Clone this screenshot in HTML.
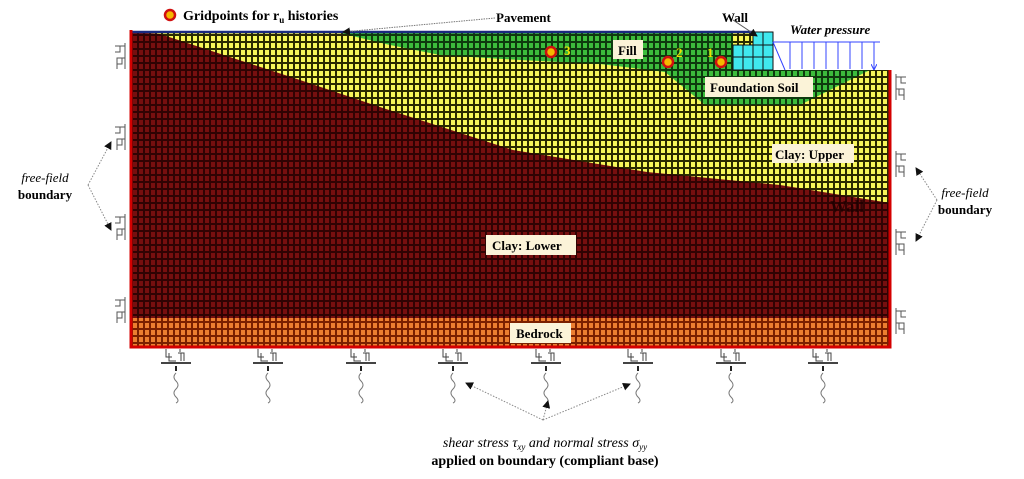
<!DOCTYPE html>
<html><head><meta charset="utf-8"><style>
html,body{margin:0;padding:0;background:#fff;}
svg{display:block;}
text{font-family:"Liberation Serif",serif;}
</style></head><body>
<svg width="1024" height="479" viewBox="0 0 1024 479" xmlns="http://www.w3.org/2000/svg">
<defs>
<pattern id="pRed" width="6" height="7" patternUnits="userSpaceOnUse"><rect width="6" height="7" fill="#300303"/><rect x="1" y="1" width="4" height="5" fill="#760f0f"/></pattern>
<pattern id="pYel" width="6" height="7" patternUnits="userSpaceOnUse"><rect width="6" height="7" fill="#2a2a00"/><rect x="1" y="1" width="4" height="5" fill="#f6f65a"/></pattern>
<pattern id="pGrn" width="6" height="7" patternUnits="userSpaceOnUse"><rect width="6" height="7" fill="#0e3a0e"/><rect x="1" y="1" width="4" height="5" fill="#3cbc3c"/></pattern>
<pattern id="pOr" width="6" height="7" patternUnits="userSpaceOnUse"><rect width="6" height="7" fill="#7a2000"/><rect x="1" y="1" width="4" height="5" fill="#ec7e30"/></pattern>
<g id="dv" stroke="#555" stroke-width="1" fill="none">
<path d="M12 0 V26 M12 3 H2 M7 3 V9 H2 M12 15 H4 V26 M9 15 V21 H4"/>
</g>
<g id="db" stroke="#444" stroke-width="1" fill="none">
<path d="M-10 0 V8 H-4 M-7 4 V12 H0 M4 0 V3 M2 4 H8 V12 M5 4 V12"/>
<path d="M-15 14 H15" stroke-width="2"/>
<path d="M0 17 V22" stroke-width="2" stroke="#222"/>
<path d="M0 24 q-4 4 0 8 q4 4 0 8 q-4 4 0 8 q4 4 0 6" stroke="#777"/>
</g>
<marker id="ah" markerWidth="8" markerHeight="8" refX="7" refY="4" orient="auto"><path d="M0 0 L8 4 L0 8 z" fill="#111"/></marker>
<marker id="ab" markerWidth="6" markerHeight="6" refX="5" refY="3" orient="auto"><path d="M0 0 L6 3 L0 6" fill="none" stroke="#3344ff"/></marker>
</defs>

<rect x="131" y="32" width="759" height="315" fill="url(#pYel)"/>
<polygon points="131,32 160,34 300,80 380,107 513,150 647,172 780,185 890,203 890,320 131,320" fill="url(#pRed)"/>
<rect x="131" y="318" width="759" height="29" fill="url(#pOr)"/>
<polygon points="340,33 733,33 733,70 773,70 870,70 800,105 705,105 665,72 600,64 520,60 440,55 390,45" fill="url(#pGrn)"/>
<rect x="773" y="20" width="120" height="50" fill="#fff"/>
<g fill="#40e8ee" stroke="#111" stroke-width="1">
<rect x="753" y="32" width="20" height="38"/>
<rect x="733" y="45" width="20" height="25"/>
<path d="M733 57 H773 M753 45 H773 M763 32 V70 M743 45 V70" fill="none"/>
</g>
<line x1="131" y1="32" x2="753" y2="32" stroke="#1a2a80" stroke-width="2.5"/>
<path d="M131 30 V347 H890 V70" fill="none" stroke="#d40000" stroke-width="3"/>
<g stroke="#3344ff" stroke-width="1" fill="none">
<path d="M773 42 H880 M773 42 L785 70"/>
<path d="M790 42 V69 M802 42 V69 M814 42 V69 M826 42 V69 M838 42 V69 M850 42 V69 M862 42 V69 M874 42 V69" marker-end="url(#ab)"/>
</g>
<g font-weight="bold" font-size="13">
<rect x="613" y="40" width="30" height="19" fill="#fbf3d8"/><text x="618" y="55">Fill</text>
<rect x="705" y="77" width="108" height="20" fill="#fbf3d8"/><text x="710" y="92">Foundation Soil</text>
<rect x="772" y="144" width="82" height="19" fill="#fbf3d8"/><text x="775" y="159">Clay: Upper</text>
<rect x="486" y="235" width="90" height="20" fill="#fbf3d8"/><text x="492" y="250">Clay: Lower</text>
<rect x="510" y="323" width="61" height="20" fill="#fbf3d8"/><text x="516" y="338">Bedrock</text>
</g>
<text x="830" y="212" font-size="17" font-weight="bold" fill="#1a0000" opacity="0.7">Wall</text>
<g fill="#f5b800" stroke="#d01010" stroke-width="2.5">
<circle cx="170" cy="15" r="5"/>
<circle cx="551" cy="52" r="5"/>
<circle cx="668" cy="62" r="5"/>
<circle cx="721" cy="62" r="5"/>
</g>
<g fill="#f0e000" font-size="13" font-weight="bold">
<text x="564" y="55">3</text><text x="676" y="57">2</text><text x="707" y="57">1</text>
</g>
<text x="183" y="20" font-size="14" font-weight="bold">Gridpoints for r<tspan font-size="9" dy="3">u</tspan><tspan dy="-3"> histories</tspan></text>
<text x="496" y="22" font-size="13" font-weight="bold">Pavement</text>
<line x1="495" y1="18" x2="343" y2="32" stroke="#777" stroke-dasharray="1.5,1" marker-end="url(#ah)"/>
<text x="722" y="22" font-size="13" font-weight="bold">Wall</text>
<line x1="733" y1="20" x2="757" y2="36" stroke="#555" marker-end="url(#ah)"/>
<text x="790" y="34" font-size="13" font-style="italic" font-weight="bold">Water pressure</text>
<use href="#dv" x="113" y="43"/><use href="#dv" x="113" y="124"/><use href="#dv" x="113" y="214"/><use href="#dv" x="113" y="297"/>
<g transform="translate(908,0) scale(-1,1)">
<use href="#dv" x="0" y="74"/><use href="#dv" x="0" y="151"/><use href="#dv" x="0" y="229"/><use href="#dv" x="0" y="308"/>
</g>
<use href="#db" x="176" y="349"/><use href="#db" x="268" y="349"/><use href="#db" x="361" y="349"/><use href="#db" x="453" y="349"/>
<use href="#db" x="546" y="349"/><use href="#db" x="638" y="349"/><use href="#db" x="731" y="349"/><use href="#db" x="823" y="349"/>
<g font-size="13" text-anchor="middle">
<text x="45" y="182" font-style="italic">free-field</text>
<text x="45" y="199" font-weight="bold">boundary</text>
<text x="965" y="197" font-style="italic">free-field</text>
<text x="965" y="214" font-weight="bold">boundary</text>
</g>
<g stroke="#888" stroke-dasharray="1.5,1.5" fill="none" marker-end="url(#ah)">
<line x1="88" y1="185" x2="111" y2="142"/><line x1="88" y1="185" x2="111" y2="230"/>
<line x1="937" y1="200" x2="916" y2="168"/><line x1="937" y1="200" x2="916" y2="241"/>
<line x1="543" y1="420" x2="466" y2="383"/><line x1="543" y1="420" x2="548" y2="401"/><line x1="543" y1="420" x2="630" y2="384"/>
</g>
<text x="545" y="447" font-size="14" font-style="italic" text-anchor="middle">shear stress τ<tspan font-size="9" dy="3">xy</tspan><tspan dy="-3"> and normal stress σ</tspan><tspan font-size="9" dy="3">yy</tspan></text>
<text x="545" y="465" font-size="14" font-weight="bold" text-anchor="middle">applied on boundary (compliant base)</text>
</svg>
</body></html>
